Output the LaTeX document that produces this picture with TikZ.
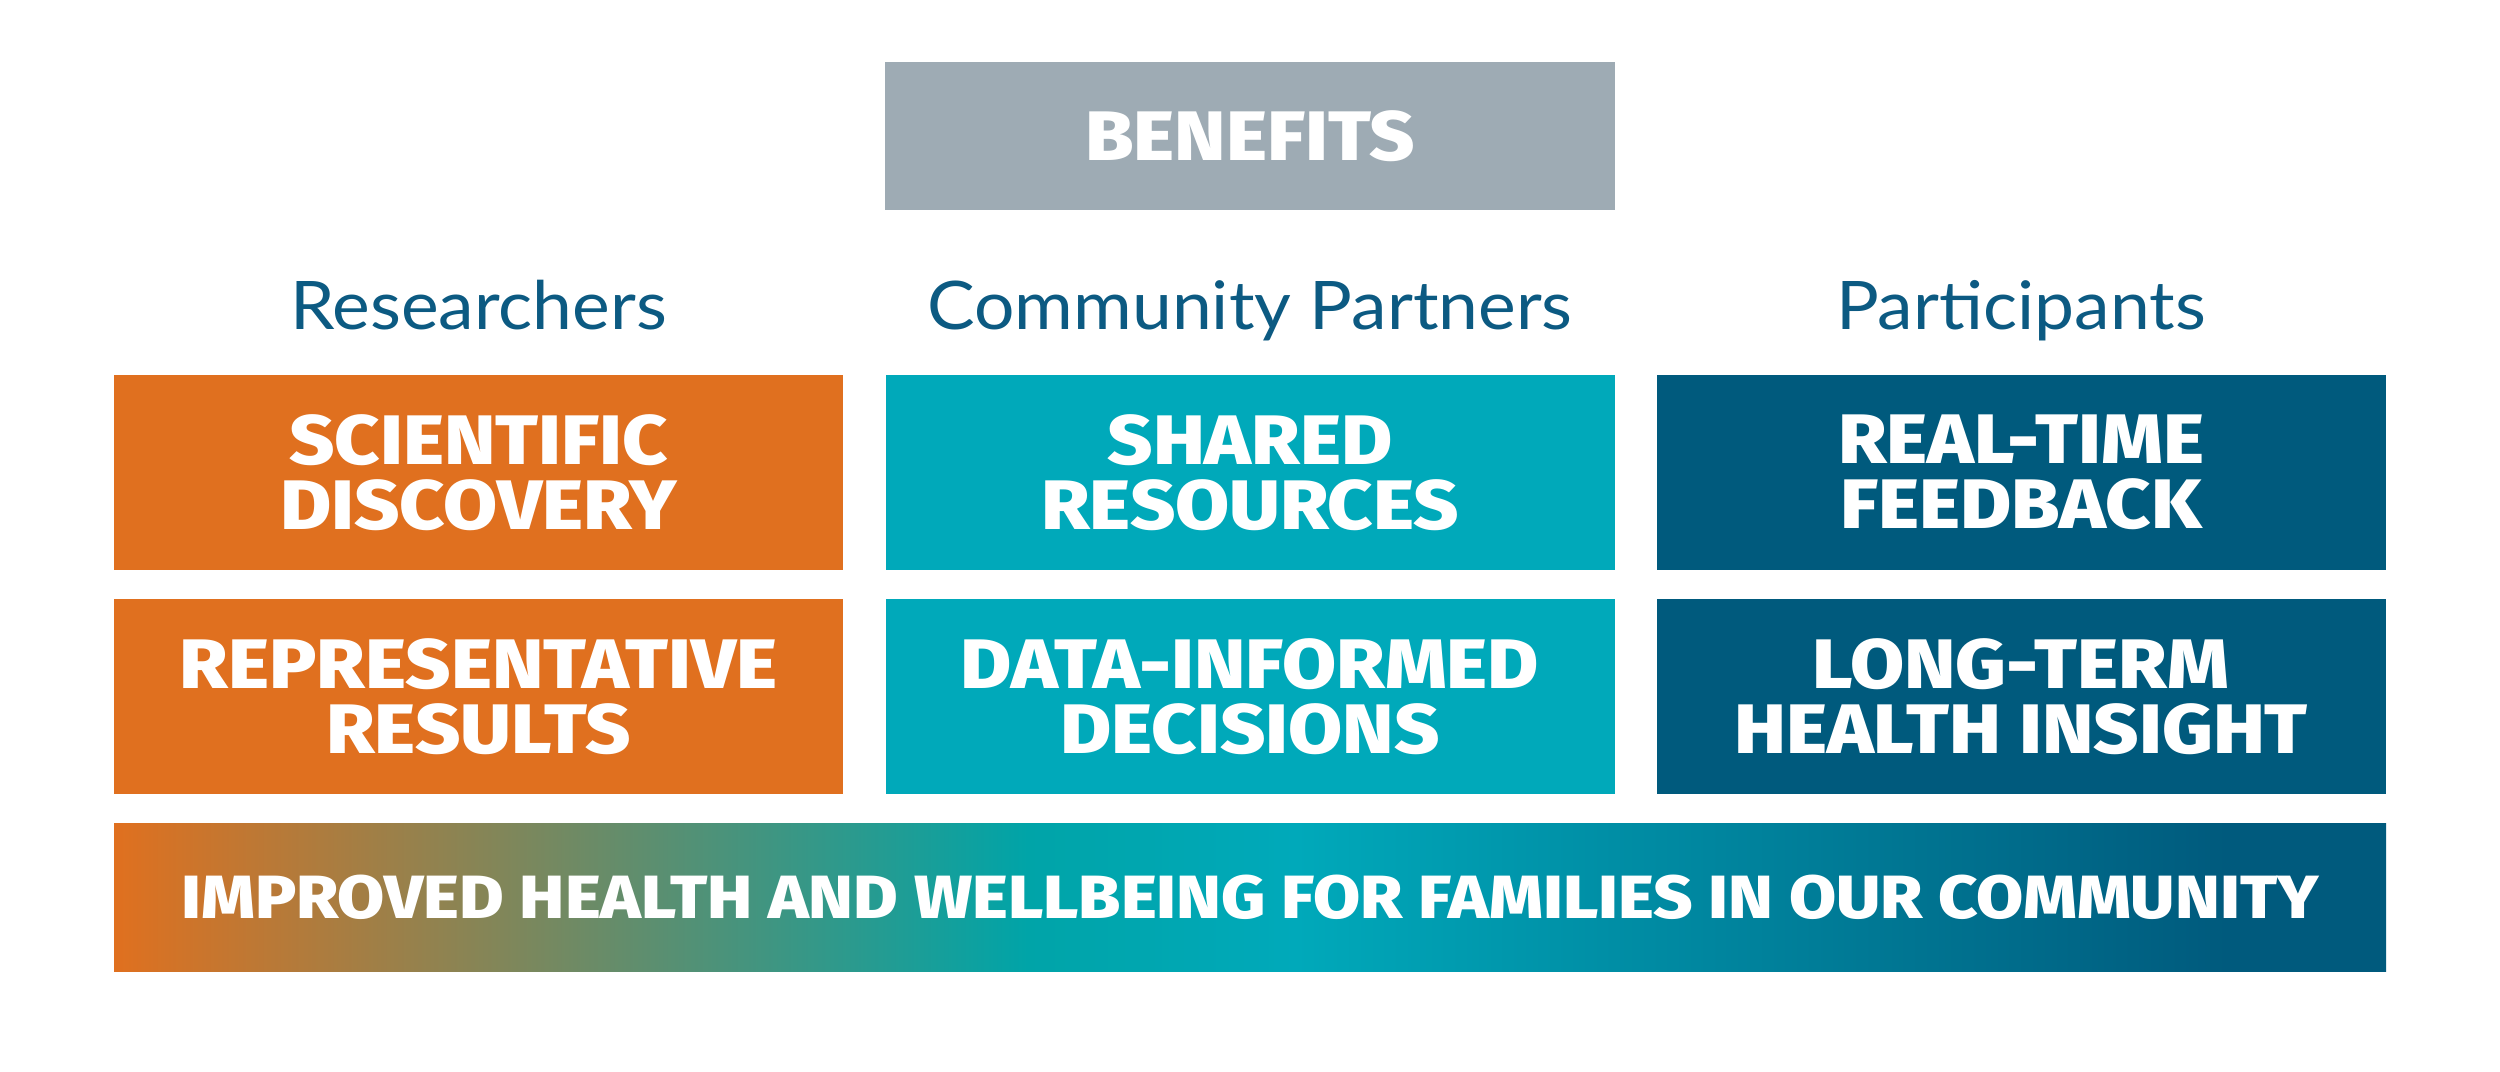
\documentclass[tikz,border=0pt]{standalone}
\usepackage{fontspec}
\newfontfamily\boxfont{Fira Sans ExtraBold}[FakeStretch=1.12]
\newfontfamily\headfont{Lato}[FakeStretch=1.065]
\definecolor{orng}{HTML}{E0701F}
\definecolor{tealc}{HTML}{00A9BA}
\definecolor{tealg}{HTML}{00A4A8}
\definecolor{dblue}{HTML}{005A7D}
\definecolor{grayc}{HTML}{9EABB4}
\definecolor{headc}{HTML}{0C5A82}
\pgfdeclarehorizontalshading{barshade}{100bp}{color(0bp)=(orng); color(25bp)=(orng); color(45.1bp)=(tealg); color(51bp)=(tealc); color(71.5bp)=(dblue); color(75bp)=(dblue); color(100bp)=(dblue)}
\begin{document}
\begin{tikzpicture}[x=1pt,y=-1pt,
  box/.style={minimum width=729pt, minimum height=195pt, inner sep=0pt, align=center, text=white, font=\boxfont\fontsize{70}{65}\selectfont},
  head/.style={inner sep=0pt, anchor=base, text=headc, font=\headfont\fontsize{67}{67}\selectfont},
]
\useasboundingbox (0,0) rectangle (2500,1071);
\node[minimum width=730pt, minimum height=148pt, inner sep=0pt, fill=grayc, text=white, font=\boxfont\fontsize{70}{70}\selectfont] (ben) at (1250,136) {BENEFITS};
\node[head] (hr) at (478.5,329) {Researchers};
\node[head] (hc) at (1250,329) {Community Partners};
\node[head] (hp) at (2021,329) {Participants};
\node[box, fill=orng] (sd) at (478.5,472.5) {SCIENTIFIC\\DISCOVERY};
\node[box, fill=tealc] (sr) at (1250,472.5) {SHARED\\RESOURCES};
\node[box, fill=dblue] (rf) at (2021,472.5) {REAL-TIME\\FEEDBACK};
\node[box, fill=orng] (rr) at (478.5,696.5) {REPRESENTATIVE\\RESULTS};
\node[box, fill=tealc] (dd) at (1250,696.5) {DATA-INFORMED\\DECISIONS};
\node[box, fill=dblue] (lt) at (2021,696.5) {LONG-TERM\\HEALTH INSIGHT};
\node[shade, shading=barshade, minimum width=2272pt, minimum height=148pt, inner sep=0pt, text=white, font=\boxfont\fontsize{61}{61}\selectfont] (bar) at (1250,897) {IMPROVED HEALTH AND WELLBEING FOR FAMILIES IN OUR COMMUNITY};
\end{tikzpicture}
\end{document}
